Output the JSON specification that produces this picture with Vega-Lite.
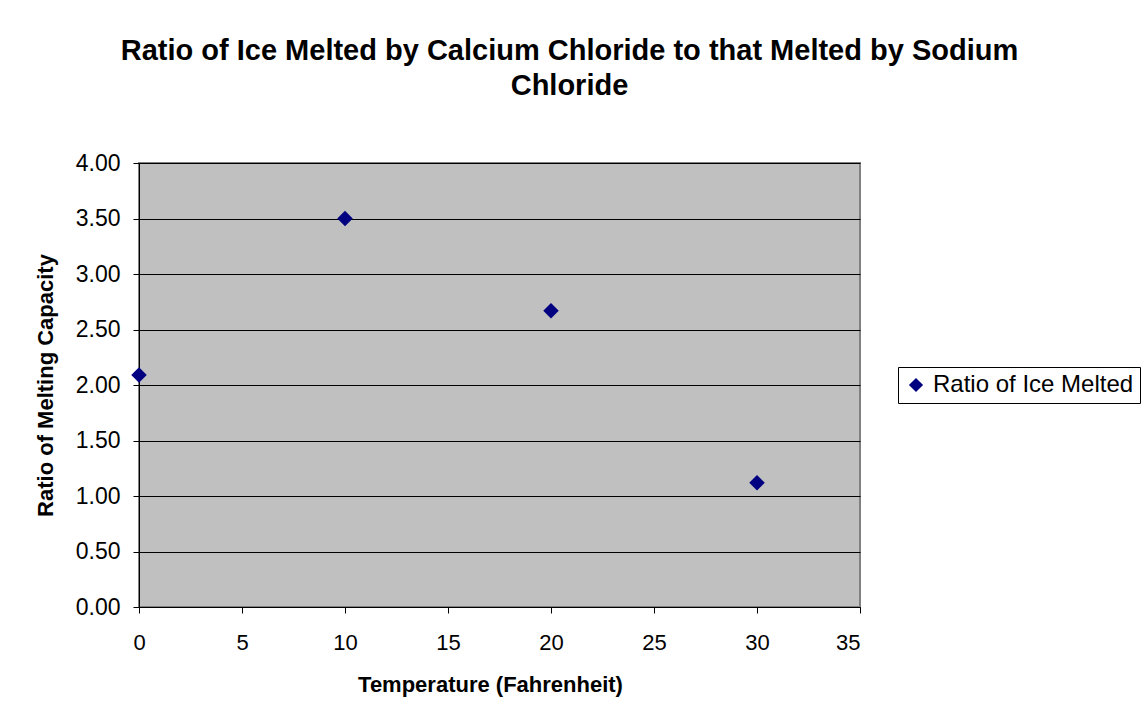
{
  "$schema": "https://vega.github.io/schema/vega-lite/v6.json",
  "autosize": {"type": "none"},
  "padding": {"left": 139, "top": 163, "right": 283, "bottom": 116},
  "width": 721,
  "height": 444,
  "background": "white",
  "title": {
    "text": ["Ratio of Ice Melted by Calcium Chloride to that Melted by Sodium", "Chloride"],
    "font": "Liberation Sans",
    "fontSize": 29,
    "fontWeight": "bold",
    "color": "black",
    "anchor": "middle",
    "frame": "group",
    "dx": 70,
    "offset": 51,
    "lineHeight": 35
  },
  "data": {
    "values": [
      {"temp": 0, "ratio": 2.09, "series": "Ratio of Ice Melted"},
      {"temp": 10, "ratio": 3.5, "series": "Ratio of Ice Melted"},
      {"temp": 20, "ratio": 2.67, "series": "Ratio of Ice Melted"},
      {"temp": 30, "ratio": 1.12, "series": "Ratio of Ice Melted"}
    ]
  },
  "mark": {"type": "point", "shape": "diamond", "filled": true, "size": 240, "opacity": 1},
  "encoding": {
    "x": {
      "field": "temp",
      "type": "quantitative",
      "scale": {"domain": [0, 35], "nice": false, "zero": false},
      "axis": {
        "title": "Temperature (Fahrenheit)",
        "values": [0, 5, 10, 15, 20, 25, 30, 35],
        "grid": false,
        "domainColor": "black",
        "tickColor": "black",
        "tickSize": 6,
        "labelFlush": false,
        "labelAlign": {"expr": "datum.value == 35 ? 'right' : 'center'"},
        "labelPadding": 19,
        "labelFontSize": 22,
        "labelFont": "Liberation Sans",
        "labelColor": "black",
        "titleFont": "Liberation Sans",
        "titleFontSize": 22,
        "titleFontWeight": "bold",
        "titleColor": "black",
        "titlePadding": 21,
        "titleX": 351,
        "titleAlign": "center"
      }
    },
    "y": {
      "field": "ratio",
      "type": "quantitative",
      "scale": {"domain": [0, 4], "nice": false},
      "axis": {
        "title": "Ratio of Melting Capacity",
        "values": [0, 0.5, 1, 1.5, 2, 2.5, 3, 3.5, 4],
        "format": ".2f",
        "grid": true,
        "gridColor": "black",
        "gridWidth": 1,
        "gridOpacity": 1,
        "domainColor": "black",
        "tickColor": "black",
        "tickSize": 6,
        "labelFlush": false,
        "labelPadding": 13,
        "labelFontSize": 23,
        "labelFont": "Liberation Sans",
        "labelColor": "black",
        "titleFont": "Liberation Sans",
        "titleFontSize": 22,
        "titleFontWeight": "bold",
        "titleColor": "black",
        "titlePadding": 18
      }
    },
    "color": {
      "field": "series",
      "type": "nominal",
      "scale": {"range": ["#000080"]},
      "legend": {
        "title": null,
        "orient": "none",
        "legendX": 759,
        "legendY": 204,
        "strokeColor": "black",
        "fillColor": "white",
        "padding": 6,
        "symbolType": "diamond",
        "symbolSize": 200,
        "symbolFillColor": "#000080",
        "symbolOffset": 0,
        "labelOffset": 5,
        "labelFont": "Liberation Sans",
        "labelFontSize": 24,
        "labelColor": "black",
        "labelLimit": 400
      }
    }
  },
  "config": {
    "view": {"fill": "#C0C0C0", "stroke": "#808080", "strokeWidth": 2}
  }
}
